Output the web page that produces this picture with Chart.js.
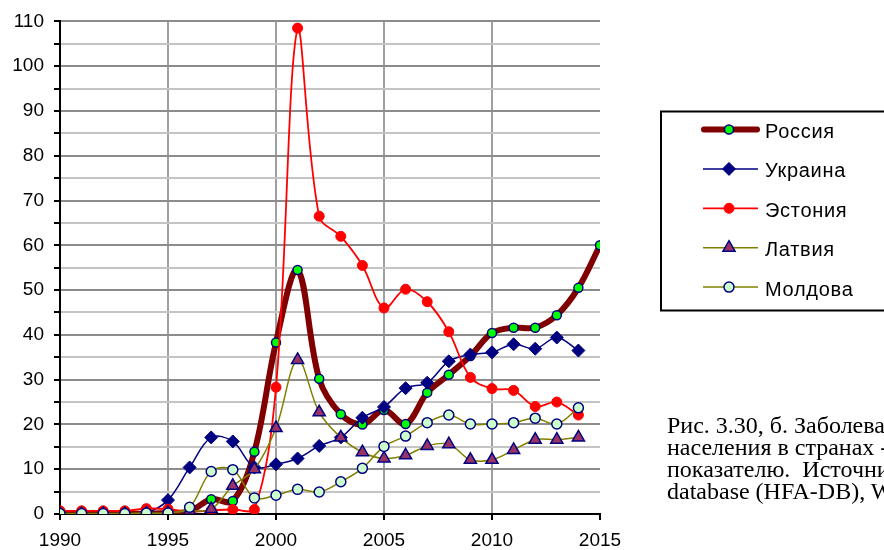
<!DOCTYPE html>
<html>
<head>
<meta charset="utf-8">
<script src="https://cdn.jsdelivr.net/npm/chart.js@4.4.1/dist/chart.umd.min.js"></script>
<style>
  html, body { margin: 0; padding: 0; background: #fff; overflow: hidden; }
  #wrap { position: relative; width: 884px; height: 550px; overflow: hidden; }
  #chartBox { position: absolute; left: 0; top: 0; width: 884px; height: 550px; }
  #caption {
    position: absolute; left: 667px; top: 413.5px; width: 400px;
    font-family: "Liberation Serif", "Times New Roman", serif; font-size: 24px;
    line-height: 22.3px; color: #000; white-space: nowrap;
  }
</style>
</head>
<body>
<div id="wrap">
  <div id="chartBox"><canvas id="c"></canvas></div>
  <div id="caption">
    <div>Рис. 3.30, б. Заболеваемость</div>
    <div>населения в странах -</div>
    <div>показателю.&nbsp; Источник</div>
    <div>database (HFA-DB), WHO</div>
  </div>
</div>
<script>
// ---- data ----
const yearsRussia = [1990,1991,1992,1993,1994,1995,1996,1997,1998,1999,2000,2001,2002,2003,2004,2005,2006,2007,2008,2009,2010,2011,2012,2013,2014,2015];
const yearsOther  = [1990,1991,1992,1993,1994,1995,1996,1997,1998,1999,2000,2001,2002,2003,2004,2005,2006,2007,2008,2009,2010,2011,2012,2013,2014];

const seriesNames = ["Россия", "Украина", "Эстония", "Латвия", "Молдова"];

const russia  = [0,0,0,0,0.1,0.2,0.6,3.3,2.9,13.9,38.3,54.5,30.2,22.3,20.0,23.2,20.1,27.1,31.1,35.3,40.4,41.6,41.6,44.4,50.5,60.0];
const ukraine = [0,0,0,0,0.3,3.1,10.4,17.1,16.2,10.4,11.1,12.4,15.2,17.1,21.5,23.9,28.1,29.3,34.1,35.6,36.1,37.9,36.9,39.4,36.5];
const estonia = [0.7,0.7,0.7,0.7,1.2,1.1,0.5,0.8,1.0,1.0,28.3,108.5,66.5,62.0,55.5,46.0,50.2,47.4,40.7,30.5,28.0,27.6,24.0,25.0,22.1];
const latvia  = [0,0,0,0,0.1,0.2,0.7,1.1,6.3,10.0,19.2,34.4,22.7,17.1,13.8,12.4,13.1,15.2,15.6,12.1,12.1,14.3,16.6,16.6,17.1];
const moldova = [0.1,0.1,0.1,0.1,0.2,0.2,1.5,9.5,9.9,3.6,4.2,5.5,4.9,7.2,10.2,15.1,17.4,20.4,22.1,20.1,20.1,20.4,21.4,20.1,23.7];

const xTickYears = [1990,1995,2000,2005,2010,2015];
const yMax = 110;

function pts(xs, ys) { return ys.map((v, i) => ({ x: xs[i], y: v })); }

Chart.defaults.font.family = '"Liberation Sans", Arial, sans-serif';
Chart.defaults.color = '#000';

const datasets = [
  { label: seriesNames[0], data: pts(yearsRussia, russia), borderColor: '#800000', borderWidth: 6,
    pointStyle: 'circle', pointRadius: 4.5, pointBackgroundColor: '#00FF00', pointBorderColor: '#000080', pointBorderWidth: 1.5, order: 5 },
  { label: seriesNames[1], data: pts(yearsOther, ukraine), borderColor: '#000080', borderWidth: 1.5,
    pointStyle: 'rectRot', pointRadius: 6.5, pointBackgroundColor: '#000080', pointBorderColor: '#000080', pointBorderWidth: 1, order: 4 },
  { label: seriesNames[2], data: pts(yearsOther, estonia), borderColor: '#FF0000', borderWidth: 1.8,
    pointStyle: 'circle', pointRadius: 5, pointBackgroundColor: '#FF0000', pointBorderColor: '#FF0000', pointBorderWidth: 1, order: 3 },
  { label: seriesNames[3], data: pts(yearsOther, latvia), borderColor: '#808000', borderWidth: 1.5,
    pointStyle: 'triangle', pointRadius: 7, pointBackgroundColor: '#993366', pointBorderColor: '#000080', pointBorderWidth: 1.5, order: 2 },
  { label: seriesNames[4], data: pts(yearsOther, moldova), borderColor: '#808000', borderWidth: 1.5,
    pointStyle: 'circle', pointRadius: 5, pointBackgroundColor: '#CCFFCC', pointBorderColor: '#000080', pointBorderWidth: 1.5, order: 1 }
];

const legendPlugin = {
  id: 'boxLegend',
  afterDraw(chart) {
    const ctx = chart.ctx;
    ctx.save();
    ctx.strokeStyle = '#000';
    ctx.lineWidth = 2;
    ctx.strokeRect(661, 111.5, 260, 199);
    const x0 = 703, x1 = 758, mx = 729;
    chart.data.datasets.forEach((ds, i) => {
      const y = 129.5 + i * 39.4;
      ctx.beginPath();
      ctx.strokeStyle = ds.borderColor;
      ctx.lineWidth = ds.borderWidth;
      ctx.lineCap = i === 0 ? 'round' : 'butt';
      ctx.moveTo(i === 0 ? 704 : x0, y);
      ctx.lineTo(i === 0 ? 757 : x1, y);
      ctx.stroke();
      ctx.fillStyle = ds.pointBackgroundColor;
      ctx.strokeStyle = ds.pointBorderColor;
      ctx.lineWidth = ds.pointBorderWidth;
      Chart.helpers.drawPoint(ctx, { pointStyle: ds.pointStyle, radius: ds.pointRadius, rotation: 0, borderWidth: ds.pointBorderWidth }, mx, y);
      ctx.fillStyle = '#000';
      ctx.font = '20px "Liberation Sans", Arial, sans-serif';
      if ('letterSpacing' in ctx) ctx.letterSpacing = '0.7px';
      ctx.textAlign = 'left';
      ctx.textBaseline = 'alphabetic';
      ctx.fillText(ds.label, 765, y + 8.5);
    });
    ctx.restore();
  }
};

new Chart(document.getElementById('c'), {
  type: 'line',
  data: { datasets },
  options: {
    responsive: true,
    maintainAspectRatio: false,
    animation: false,
    events: [],
    layout: { padding: { left: 0, top: 14, right: 284, bottom: 0 } },
    elements: { line: { tension: 0.35, fill: false } },
    plugins: { legend: { display: false }, tooltip: { enabled: false } },
    scales: {
      x: {
        type: 'linear', min: 1990, max: 2015,
        afterFit(s) { s.height = 36; },
        afterBuildTicks(s) { s.ticks = xTickYears.map(v => ({ value: v })); },
        ticks: { font: { size: 19 }, padding: 9, maxRotation: 0, autoSkip: false,
                 callback: v => String(v) },
        grid: {
          color: c => (c.tick && (c.tick.value === 1990 || c.tick.value === 2015)) ? 'rgba(0,0,0,0)' : '#a0a0a0',
          lineWidth: 2, tickColor: '#000', tickLength: 6, tickWidth: 2
        },
        border: { color: '#000', width: 2 }
      },
      y: {
        min: 0, max: yMax,
        afterFit(s) { s.width = 60; },
        ticks: { stepSize: 5, font: { size: 19 }, padding: 10, autoSkip: false,
                 callback: v => (v % 10 === 0 ? String(v) : '') },
        grid: {
          color: c => (c.tick && c.tick.value % 10 === 0) ? '#8c8c8c' : '#c4c4c4',
          lineWidth: 2, tickColor: '#000', tickLength: 6, tickWidth: 2
        },
        border: { color: '#000', width: 2 }
      }
    }
  },
  plugins: [legendPlugin]
});
</script>
</body>
</html>
